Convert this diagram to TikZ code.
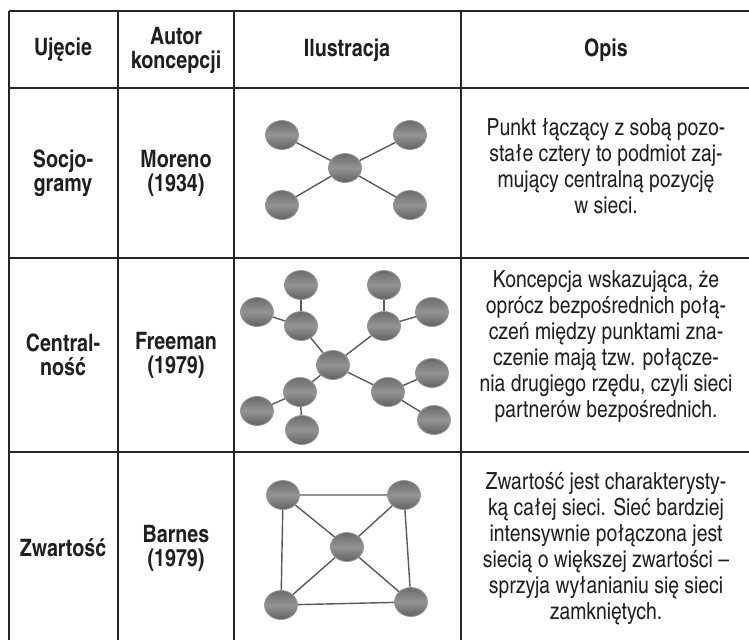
\documentclass[tikz,border=0pt]{standalone}
\usepackage{fontspec}
\setmainfont{texgyreheroscn}[Extension=.otf, UprightFont=*-regular, BoldFont=*-bold]
\usetikzlibrary{shapes.geometric}

\begin{document}
\begin{tikzpicture}[x=0.5pt, y=-0.5pt,
    rule/.style={draw=black!85, line width=1pt},
    head/.style={font=\bfseries\fontsize{12}{12}\selectfont, text=black!88, align=center},
    desc/.style={font=\fontsize{11.8}{13}\selectfont, text=black!88, align=center},
    ball/.style={ellipse, draw=black!40, line width=0.4pt, minimum width=16.5pt, minimum height=14.5pt, inner sep=0pt,
        top color=black!58, bottom color=black!62, middle color=black!42},
    link/.style={draw=black!65, line width=0.7pt}]
    \useasboundingbox (0,0) rectangle (749,639);

    % table rules
    \draw[rule] (9,11) -- (750,11);
    \draw[rule] (9,88) -- (750,88);
    \draw[rule] (9,258) -- (750,258);
    \draw[rule] (9,452) -- (750,452);
    \draw[rule] (9,11) -- (9,640);
    \draw[rule] (118,11) -- (118,640);
    \draw[rule] (234,11) -- (234,640);
    \draw[rule] (461,11) -- (461,640);

    % header
    \node[head] (hujecie) at (63,50) {Ujęcie};
    \node[head] (hautor) at (176,50) {Autor\\koncepcji};
    \node[head] (hilustr) at (347,50) {Ilustracja};
    \node[head] (hopis) at (606,50) {Opis};

    % row 1
    \node[head] (ujecie1) at (63,173) {Socjo-\\gramy};
    \node[head] (autor1) at (176,173) {Moreno\\(1934)};
    \node[desc] (opis1) at (606,166) {Punkt łączący z sobą pozo-\\stałe cztery to podmiot zaj-\\mujący centralną pozycję\\w sieci.};
    \node[ball] (m0) at (345,168) {};
    \node[ball] (m1) at (282,135) {};
    \node[ball] (m2) at (410,135) {};
    \node[ball] (m3) at (282,205) {};
    \node[ball] (m4) at (410,205) {};
    \foreach \n in {m1,m2,m3,m4}
        \draw[link] (m0) -- (\n);

    % row 2
    \node[head] (ujecie2) at (63,355) {Central-\\ność};
    \node[head] (autor2) at (176,355) {Freeman\\(1979)};
    \node[desc] (opis2) at (606,346) {Koncepcja wskazująca, że\\oprócz bezpośrednich połą-\\czeń między punktami zna-\\czenie mają tzw. połącze-\\nia drugiego rzędu, czyli sieci\\partnerów bezpośrednich.};
    \node[ball] (f0) at (333,365) {};
    \node[ball] (fa) at (301,326) {};
    \node[ball] (fa1) at (301,285) {};
    \node[ball] (fa2) at (257,312) {};
    \node[ball] (fb) at (384,326) {};
    \node[ball] (fb1) at (384,285) {};
    \node[ball] (fb2) at (432,312) {};
    \node[ball] (fc) at (300,392) {};
    \node[ball] (fc1) at (257,411) {};
    \node[ball] (fc2) at (302,430) {};
    \node[ball] (fd) at (388,392) {};
    \node[ball] (fd1) at (432,373) {};
    \node[ball] (fd2) at (434,420) {};
    \foreach \h in {fa,fb,fc,fd} {
        \draw[link] (f0) -- (\h);
        \draw[link] (\h) -- (\h1);
        \draw[link] (\h) -- (\h2);
    }

    % row 3
    \node[head] (ujecie3) at (63,548) {Zwartość};
    \node[head] (autor3) at (176,548) {Barnes\\(1979)};
    \node[desc] (opis3) at (606,549) {Zwartość jest charakterysty-\\ką całej sieci. Sieć bardziej\\intensywnie połączona jest\\siecią o większej zwartości –\\sprzyja wyłanianiu się sieci\\zamkniętych.};
    \node[ball] (b0) at (347,547) {};
    \node[ball] (b1) at (283,495) {};
    \node[ball] (b2) at (404,495) {};
    \node[ball] (b3) at (281,605) {};
    \node[ball] (b4) at (411,602) {};
    \foreach \n in {b1,b2,b3,b4}
        \draw[link] (b0) -- (\n);
    \draw[link] (b1) -- (b2) -- (b4) -- (b3) -- (b1);

\end{tikzpicture}
\end{document}
